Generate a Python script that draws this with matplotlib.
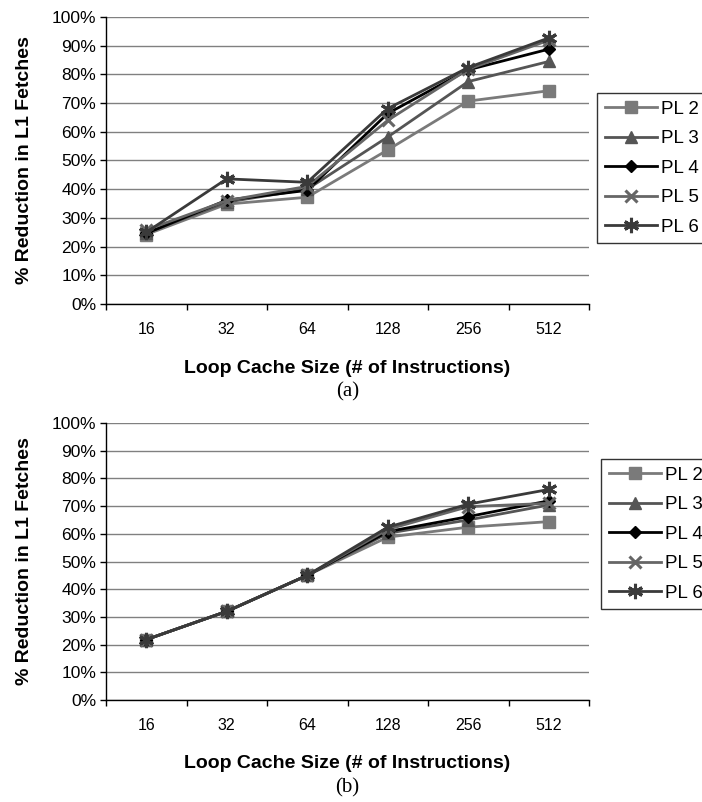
import numpy as np
import matplotlib
matplotlib.use("Agg")
import matplotlib.pyplot as plt
from matplotlib.ticker import FixedLocator, PercentFormatter

plt.rcParams['font.family'] = ['Liberation Sans', 'DejaVu Sans']

# categories
sizes = ["16", "32", "64", "128", "256", "512"]
series = ["PL 2", "PL 3", "PL 4", "PL 5", "PL 6"]

# (a) % reduction in L1 fetches
a_pl2 = [24.2, 34.8, 37.2, 53.7, 70.7, 74.3]
a_pl3 = [24.8, 35.5, 40.0, 58.2, 77.5, 84.5]
a_pl4 = [24.6, 36.2, 39.6, 66.4, 81.6, 88.8]
a_pl5 = [25.8, 36.0, 41.0, 64.0, 81.8, 91.9]
a_pl6 = [25.0, 43.6, 42.4, 68.1, 82.4, 92.7]

# (b)
b_pl2 = [21.8, 32.0, 45.0, 58.8, 62.4, 64.4]
b_pl3 = [21.8, 32.0, 45.0, 60.2, 65.0, 70.4]
b_pl4 = [21.8, 32.0, 45.0, 60.8, 66.2, 71.9]
b_pl5 = [21.8, 32.0, 45.0, 61.6, 69.8, 71.0]
b_pl6 = [21.8, 32.0, 45.0, 62.4, 70.7, 76.0]

styles = [
    dict(color="#7a7a7a", marker="s", ms=8.5),
    dict(color="#555555", marker="^", ms=9),
    dict(color="#000000", marker="D", ms=6.5),
    dict(color="#666666", marker="x", ms=9, mew=2.2),
    dict(color="#3a3a3a", marker=(6, 2, 0), ms=11, mew=2.2),
]

W, H = 702, 802
fig = plt.figure(figsize=(W / 100, H / 100), dpi=100)


def panel(top, bottom, data, tag, leg_xy):
    left, right = 106, 589
    ax = fig.add_axes([left / W, 1 - bottom / H, (right - left) / W, (bottom - top) / H])
    x = np.arange(len(sizes))
    handles = []
    for vals, name, st in zip(data, series, styles):
        h, = ax.plot(x, vals, lw=2.0, label=name, **st)
        handles.append(h)
    ax.set_xlim(-0.5, len(sizes) - 0.5)
    ax.set_ylim(0, 100)
    ax.yaxis.set_major_locator(FixedLocator(np.arange(0, 101, 10)))
    ax.yaxis.set_major_formatter(PercentFormatter(decimals=0))
    ax.xaxis.set_major_locator(FixedLocator(np.arange(-0.5, len(sizes), 1.0)))
    ax.xaxis.set_major_formatter(plt.NullFormatter())
    ax.xaxis.set_minor_locator(FixedLocator(x))
    ax.set_xticklabels(sizes, minor=True)
    ax.tick_params(axis="x", which="minor", length=0, pad=13, labelsize=11.5)
    ax.tick_params(axis="x", which="major", length=4, width=1, direction="out")
    ax.tick_params(axis="y", length=4, width=1, direction="out", labelsize=12.5, pad=3)
    ax.grid(axis="y", color="#808080", lw=1)
    ax.set_axisbelow(True)
    for s in ("top", "right"):
        ax.spines[s].set_visible(False)
    for s in ("left", "bottom"):
        ax.spines[s].set_color("black")
        ax.spines[s].set_linewidth(1)
    fig.text(25 / W, 1 - (top + bottom) / 2 / H, "% Reduction in L1 Fetches",
             rotation=90, ha="center", va="center", fontsize=14, fontweight="bold")
    fig.text((left + right) / 2 / W, 1 - (bottom + 64) / H,
             "Loop Cache Size (# of Instructions)",
             ha="center", va="center", fontsize=14, fontweight="bold")
    fig.text((left + right) / 2 / W, 1 - (bottom + 88) / H, tag,
             ha="center", va="center", fontsize=15,
             family=["Liberation Serif", "DejaVu Serif"])
    leg = fig.legend(handles=handles, loc="upper left",
                     bbox_to_anchor=(leg_xy[0] / W, 1 - leg_xy[1] / H),
                     frameon=True, fancybox=False, edgecolor="black", fontsize=13.5,
                     handlelength=2.8, labelspacing=0.66, borderpad=0.4,
                     handletextpad=0.2, borderaxespad=0)
    leg.get_frame().set_linewidth(1)
    return ax


panel(17, 304, [a_pl2, a_pl3, a_pl4, a_pl5, a_pl6], "(a)", (597, 93))
panel(423, 700, [b_pl2, b_pl3, b_pl4, b_pl5, b_pl6], "(b)", (601, 459))

fig.savefig("out.png", dpi=100)
